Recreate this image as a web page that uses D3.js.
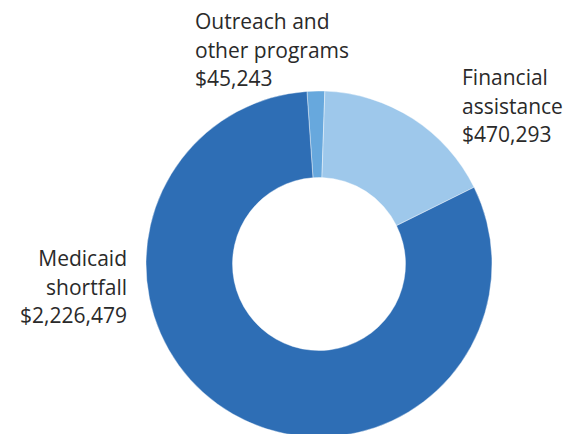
<!DOCTYPE html>
<html>
<head>
<meta charset="utf-8">
<script src="https://cdn.jsdelivr.net/npm/d3@7"></script>
<style>
  body { margin: 0; background: #fff; }
  svg { display: block; }
</style>
</head>
<body>
<svg width="577" height="434"></svg>
<script>
const categories = ["Outreach and other programs", "Financial assistance", "Medicaid shortfall"];
const values = [45243, 470293, 2226479];
const labelLines = [
  ["Outreach and", "other programs", "$45,243"],
  ["Financial", "assistance", "$470,293"],
  ["Medicaid", "shortfall", "$2,226,479"]
];
const colors = ["#67a8dd", "#9ec8eb", "#2e6eb5"];

const svg = d3.select("svg");
const cx = 319, cy = 264;
const outerR = 173, innerR = 86.5;

const data = categories.map((c, i) => ({ name: c, value: values[i], lines: labelLines[i], color: colors[i] }));

const start = -4 * Math.PI / 180;
const pie = d3.pie()
  .value(d => d.value)
  .sort(null)
  .startAngle(start)
  .endAngle(start + 2 * Math.PI);

const arc = d3.arc().innerRadius(innerR).outerRadius(outerR);

const g = svg.append("g").attr("transform", `translate(${cx},${cy})`);

g.selectAll("path")
  .data(pie(data))
  .join("path")
  .attr("d", arc)
  .attr("fill", d => d.data.color)
  .attr("stroke", "#fff")
  .attr("stroke-width", 0.4);

// label positions (left edge, or right edge for Medicaid)
const labelPos = [
  { x: 195, y: 29, anchor: "start" },
  { x: 462, y: 85, anchor: "start" },
  { x: 127, y: 266, anchor: "end" }
];
const lineH = 28.5;

svg.append("g")
  .attr("font-family", "'Open Sans', sans-serif")
  .attr("font-size", 21)
  .attr("fill", "#2a2a2a")
  .selectAll("text")
  .data(data)
  .join("text")
  .attr("x", (d, i) => labelPos[i].x)
  .attr("y", (d, i) => labelPos[i].y)
  .attr("text-anchor", (d, i) => labelPos[i].anchor)
  .each(function (d, i) {
    d3.select(this).selectAll("tspan")
      .data(d.lines)
      .join("tspan")
      .attr("x", labelPos[i].x)
      .attr("dy", (l, j) => j === 0 ? 0 : lineH)
      .text(l => l);
  });
</script>
</body>
</html>
